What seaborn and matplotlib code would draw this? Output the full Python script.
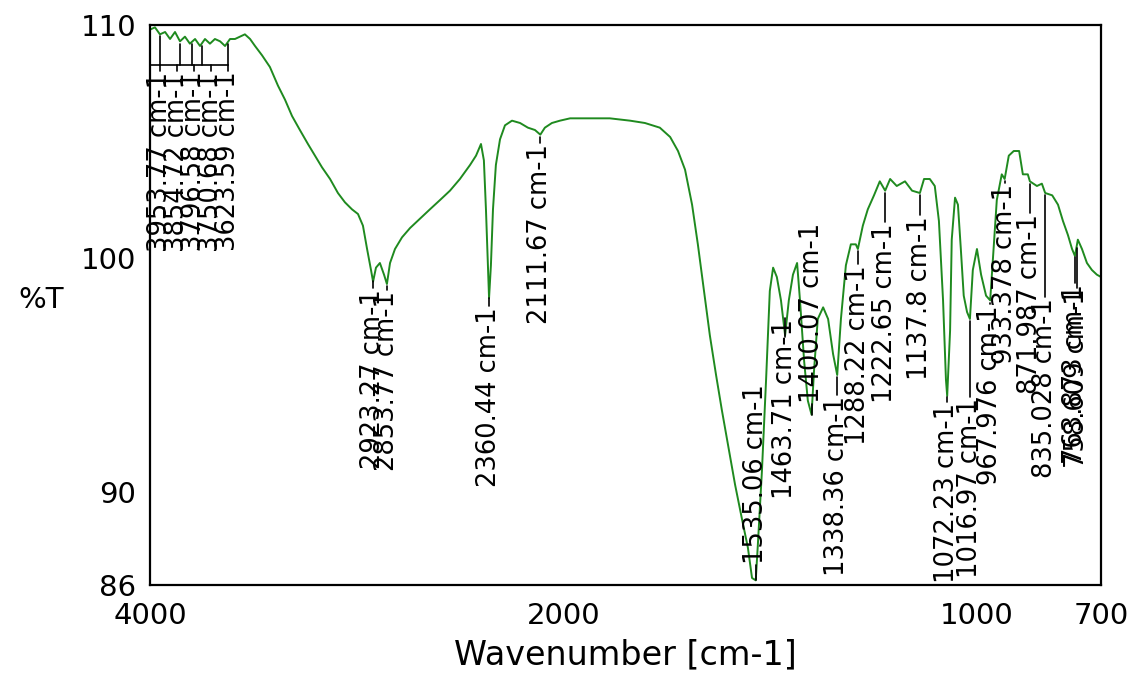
import numpy as np
import pandas as pd
import matplotlib
matplotlib.use("Agg")
import matplotlib.pyplot as plt
import seaborn as sns

# ---------------- data ----------------
wavenumber = [4000, 3976, 3952, 3927, 3903, 3879, 3855, 3831, 3807, 3782,
              3758, 3734, 3710, 3686, 3661, 3637, 3613, 3589, 3565, 3541,
              3516, 3492, 3458, 3420, 3381, 3347, 3313, 3275, 3236, 3202,
              3168, 3129, 3091, 3057, 3023, 2994, 2970, 2950, 2931, 2921,
              2907, 2888, 2868, 2854, 2839, 2815, 2781, 2742, 2694, 2646,
              2597, 2549, 2501, 2452, 2423, 2399, 2385, 2375, 2365, 2360,
              2351, 2341, 2327, 2307, 2283, 2249, 2210, 2172, 2138, 2112,
              2090, 2056, 2017, 1984, 1936, 1888, 1839, 1803, 1767, 1742,
              1723, 1706, 1689, 1675, 1660, 1646, 1631, 1617, 1602, 1585,
              1568, 1554, 1544, 1535, 1530, 1520, 1510, 1501, 1493, 1484,
              1474, 1464, 1455, 1445, 1435, 1428, 1418, 1409, 1400, 1394,
              1385, 1372, 1360, 1348, 1338, 1329, 1317, 1305, 1293, 1288,
              1276, 1264, 1249, 1235, 1222, 1210, 1194, 1174, 1157, 1138,
              1128, 1114, 1102, 1092, 1082, 1075, 1072, 1065, 1061, 1053,
              1046, 1039, 1032, 1024, 1017, 1010, 1000, 990, 978, 968,
              961, 952, 940, 933, 923, 911, 898, 889, 877, 872,
              855, 843, 835, 818, 804, 792, 780, 770, 763, 756,
              746, 734, 722, 710, 700]
transmittance = [109.8, 109.9, 109.6, 109.7, 109.4, 109.7, 109.3, 109.5, 109.2, 109.4,
                 109.1, 109.4, 109.2, 109.4, 109.3, 109.1, 109.4, 109.4, 109.5, 109.6,
                 109.4, 109.1, 108.7, 108.2, 107.4, 106.8, 106.1, 105.5, 104.9, 104.4,
                 103.9, 103.4, 102.8, 102.4, 102.1, 101.9, 101.4, 100.4, 99.5, 99.0,
                 99.6, 99.8, 99.3, 98.9, 99.8, 100.4, 100.9, 101.3, 101.7, 102.1,
                 102.5, 102.9, 103.4, 104.0, 104.4, 104.9, 104.2, 102.1, 99.5, 98.3,
                 99.7, 102.1, 104.0, 105.1, 105.7, 105.9, 105.8, 105.6, 105.5, 105.3,
                 105.6, 105.8, 105.9, 106.0, 106.0, 106.0, 105.9, 105.8, 105.6, 105.2,
                 104.6, 103.8, 102.3, 100.6, 98.6, 96.7, 95.0, 93.5, 92.0, 90.3,
                 88.8, 87.6, 86.3, 86.2, 87.7, 90.9, 94.8, 98.6, 99.6, 99.2,
                 98.2, 96.7, 98.2, 99.3, 99.8, 98.2, 95.6, 93.9, 93.3, 95.2,
                 97.4, 97.9, 97.4, 95.9, 95.0, 97.4, 99.7, 100.6, 100.6, 100.4,
                 101.4, 102.1, 102.7, 103.3, 102.9, 103.4, 103.1, 103.3, 102.9, 102.8,
                 103.4, 103.4, 103.1, 101.6, 98.2, 94.8, 94.1, 96.9, 100.8, 102.6,
                 102.3, 100.4, 98.4, 97.7, 97.4, 99.5, 100.4, 99.3, 98.4, 98.2,
                 100.1, 102.5, 103.6, 103.4, 104.4, 104.6, 104.6, 103.6, 103.6, 103.3,
                 103.1, 103.2, 102.8, 102.7, 102.3, 101.6, 101.0, 100.4, 100.1, 100.8,
                 100.4, 99.8, 99.5, 99.3, 99.2]

peak_wavenumbers = [3953.77, 3854.72, 3796.58, 3750.68, 3623.59, 2923.27, 2853.77,
                    2360.44, 2111.67, 1535.06, 1463.71, 1400.07, 1338.36, 1288.22,
                    1222.65, 1137.8, 1072.23, 1016.97, 967.976, 933.378, 871.987,
                    835.028, 763.873, 758.609]
peak_labels = ["3953.77 cm-1", "3854.72 cm-1", "3796.58 cm-1", "3750.68 cm-1",
               "3623.59 cm-1", "2923.27 cm-1", "2853.77 cm-1", "2360.44 cm-1",
               "2111.67 cm-1", "1535.06 cm-1", "1463.71 cm-1", "1400.07 cm-1",
               "1338.36 cm-1", "1288.22 cm-1", "1222.65 cm-1", "1137.8 cm-1",
               "1072.23 cm-1", "1016.97 cm-1", "967.976 cm-1", "933.378 cm-1",
               "871.987 cm-1", "835.028 cm-1", "763.873 cm-1", "758.609 cm-1"]

x_tick_values = [4000, 2000, 1000, 700]
x_tick_labels = ["4000", "2000", "1000", "700"]
x_minor_ticks = [3000, 1500]
y_tick_values = [110, 100, 90, 86]
y_tick_labels = ["110", "100", "90", "86"]
y_minor_ticks = [95]

# ---------------- layout (label placement) ----------------
label_anchor = [108.0] * 5 + [98.7, 98.6, 97.9, 104.9, 86.9, 97.4, 93.8, 94.1, 99.7,
                              101.5, 101.8, 93.8, 94.0, 98.0, 103.2, 101.9, 98.3,
                              98.9, 98.7]
label_va = ["top"] * 9 + ["bottom", "top", "bottom"] + ["top"] * 12
bracket_level = 108.3
group_size = 5

df = pd.DataFrame({"wavenumber": wavenumber, "T": transmittance})

sns.set_style("white")
plt.rcParams["font.family"] = ["DejaVu Sans"]

fig = plt.figure(figsize=(11.31, 6.97), dpi=100)
ax = fig.add_axes([150 / 1131, 1 - 585 / 697, 951 / 1131, 560 / 697])

line_color = "#1f8a1f"
sns.lineplot(data=df, x="wavenumber", y="T", ax=ax, color=line_color,
             linewidth=1.4, estimator=None, sort=False)


def fwd(x):
    x = np.asarray(x, dtype=float)
    return np.where(x > 2000, 2000 + (x - 2000) / 2.0, x)


def inv(t):
    t = np.asarray(t, dtype=float)
    return np.where(t > 2000, 2000 + 2.0 * (t - 2000), t)


ax.set_xscale("function", functions=(fwd, inv))
ax.set_xlim(4000, 700)
ax.set_ylim(86, 110)

# label x positions: the crowded top-left group is spread evenly (bracket leaders)
group_x = inv(np.linspace(fwd(peak_wavenumbers[0]),
                          fwd(peak_wavenumbers[group_size - 1]), group_size))
label_x = list(group_x) + list(peak_wavenumbers[group_size:])

# peak labels with leader ticks
wn_sorted = np.array(wavenumber[::-1], dtype=float)
t_sorted = np.array(transmittance[::-1], dtype=float)
for i, (pw, lx, lab, anc, va) in enumerate(zip(peak_wavenumbers, label_x, peak_labels,
                                                 label_anchor, label_va)):
    pt = float(np.interp(pw, wn_sorted, t_sorted))
    if i < group_size:
        ax.plot([pw, pw], [pt - 0.1, bracket_level], color="black", lw=1.2)
        ax.plot([lx, lx], [bracket_level, anc + 0.05], color="black", lw=1.2)
    elif va == "top":
        ax.plot([pw, pw], [pt - 0.1, anc + 0.05], color="black", lw=1.2)
    else:
        ax.plot([pw, pw], [pt, anc - 0.05], color="black", lw=1.2)
    ax.text(lx, anc, lab, rotation=90, ha="center", va=va,
            fontsize=18.5, color="black", family=["DejaVu Sans"])
ax.plot([4000, min(peak_wavenumbers[:group_size])], [bracket_level, bracket_level],
        color="black", lw=1.2)

# axes styling
for s in ax.spines.values():
    s.set_color("black")
    s.set_linewidth(1.6)

ax.set_xticks(x_tick_values)
ax.set_xticklabels(x_tick_labels, fontsize=21)
ax.set_xticks(x_minor_ticks, minor=True)
ax.set_yticks(y_tick_values)
ax.set_yticklabels(y_tick_labels, fontsize=21)
ax.set_yticks(y_minor_ticks, minor=True)
ax.tick_params(axis="both", which="both", direction="in", length=7, width=1.3,
               colors="black")
ax.tick_params(axis="x", which="major", pad=12)
ax.tick_params(axis="y", which="major", pad=10)
ax.tick_params(axis="x", which="minor", labelbottom=False)

ax.set_xlabel("Wavenumber [cm-1]", fontsize=24, labelpad=6, color="black")
ax.set_ylabel("%T", rotation=0, fontsize=21, ha="center", va="center", color="black")
ax.yaxis.set_label_coords(-0.115, 0.509)
ax.grid(False)

fig.savefig("out.png", dpi=100, facecolor="white")
